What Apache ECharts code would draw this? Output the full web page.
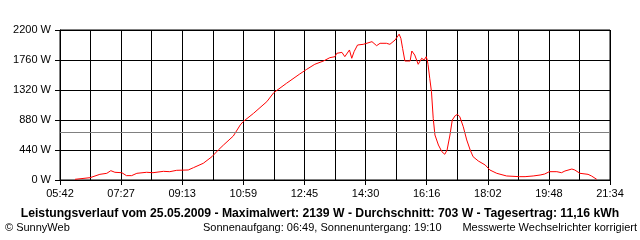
<!DOCTYPE html>
<html>
<head>
<meta charset="utf-8">
<script src="https://cdn.jsdelivr.net/npm/echarts@6/dist/echarts.min.js"></script>
<style>
html,body{margin:0;padding:0;background:#fff;}
#c{width:640px;height:240px;}
</style>
</head>
<body>
<div id="c"></div>
<script>
// Data
var startTime = '05:42';
var endTime = '21:34';
var yTicks = [0, 440, 880, 1320, 1760, 2200];
var averageW = 703;
var times = ['06:08','06:34','06:51','07:03','07:10','07:17','07:29','07:37','07:46','07:55',
  '08:12','08:23','08:41','08:52','09:04','09:24','09:33','09:50','10:05','10:16',
  '10:25','10:42','10:54','10:59','11:17','11:40','11:52','12:14','12:37','12:49',
  '13:03','13:18','13:29','13:38','13:41','13:50','13:55','13:58','14:03','14:07',
  '14:11','14:17','14:27','14:42','14:50','14:56','15:07','15:13','15:22','15:29',
  '15:32','15:35','15:39','15:42','15:48','15:51','15:56','16:02','16:08','16:12',
  '16:16','16:18','16:19','16:22','16:25','16:28','16:31','16:37','16:43','16:48',
  '16:52','16:57','17:01','17:06','17:10','17:14','17:20','17:26','17:32','17:37',
  '17:46','17:58','18:06','18:18','18:35','18:57','18:59','19:07','19:21','19:33',
  '19:41','19:49','20:02','20:10','20:16','20:28','20:33','20:42','20:56','21:02','21:11'];
var watts = [10,34,83,98,137,113,107,64,64,98,
  113,107,127,122,142,147,181,245,342,440,
  513,645,807,856,978,1149,1281,1418,1555,1623,
  1697,1745,1794,1809,1858,1872,1809,1785,1907,1785,
  1882,1980,1990,2029,1970,2005,2005,1990,2053,2139,
  2078,1931,1745,1735,1745,1892,1833,1697,1785,1760,
  1809,1745,1697,1491,1295,905,660,513,415,377,
  440,660,880,943,963,928,782,587,440,342,
  279,220,147,98,59,49,34,49,59,73,
  88,122,122,107,132,161,147,98,83,59,10];
var titleText = 'Leistungsverlauf vom 25.05.2009 - Maximalwert: 2139 W - Durchschnitt: 703 W - Tagesertrag: 11,16 kWh';
var footLeft = '\u00a9 SunnyWeb';
var footMid = 'Sonnenaufgang: 06:49, Sonnenuntergang: 19:10';
var footRight = 'Messwerte Wechselrichter korrigiert';

function toMin(t){var p=t.split(':');return (+p[0])*60+(+p[1]);}
var t0 = toMin(startTime), span = toMin(endTime) - t0;
function pad(n){return (n<10?'0':'')+n;}
var data = times.map(function(t,i){return [toMin(t)-t0, watts[i]];});

var FONT = 'Liberation Sans, Arial, sans-serif';
var chart = echarts.init(document.getElementById('c'), null, {renderer:'canvas'});
chart.setOption({
  backgroundColor:'#ffffff',
  animation:false,
  grid:{left:60,right:30,top:30,bottom:60,show:true,borderColor:'#000',borderWidth:1,backgroundColor:'transparent'},
  xAxis:{
    type:'value', min:0, max:span, interval:span/9,
    axisLine:{show:true,lineStyle:{color:'#000',width:1}},
    axisTick:{show:true,length:5,lineStyle:{color:'#000'}},
    minorTick:{show:false,splitNumber:2},
    splitLine:{show:true,lineStyle:{color:'#000',width:1}},
    minorSplitLine:{show:true,lineStyle:{color:'#000',width:1}},
    axisLabel:{color:'#000',fontSize:11,fontFamily:FONT,margin:8,
      formatter:function(v){var m=Math.floor(t0+v+1e-6);return pad(Math.floor(m/60))+':'+pad(m%60);}}
  },
  yAxis:{
    type:'value', min:yTicks[0], max:yTicks[yTicks.length-1], interval:yTicks[1]-yTicks[0],
    axisLine:{show:true,lineStyle:{color:'#000',width:1}},
    axisTick:{show:true,length:5,lineStyle:{color:'#000'}},
    splitLine:{show:true,lineStyle:{color:'#000',width:1}},
    axisLabel:{color:'#000',fontSize:11,fontFamily:FONT,margin:9,
      formatter:function(v){return Math.round(v)+' W';}}
  },
  series:[{
    type:'line', data:data, showSymbol:false, symbol:'none', smooth:false,
    lineStyle:{color:'#ff0000',width:1}, itemStyle:{color:'#ff0000'},
    markLine:{silent:true,symbol:'none',label:{show:false},
      lineStyle:{color:'#808080',width:1,type:'solid'},
      data:[{yAxis:averageW}]}
  }],
  graphic:[
    {type:'text',left:'center',top:208,style:{text:titleText,fontSize:12.2,fontWeight:'bold',fontFamily:FONT,fill:'#000'}},
    {type:'text',left:5,top:222,style:{text:footLeft,fontSize:11,fontFamily:FONT,fill:'#000'}},
    {type:'text',left:203,top:222,style:{text:footMid,fontSize:11,fontFamily:FONT,fill:'#000'}},
    {type:'text',right:3,top:222,style:{text:footRight,fontSize:11,fontFamily:FONT,fill:'#000'}}
  ]
});
</script>
</body>
</html>
